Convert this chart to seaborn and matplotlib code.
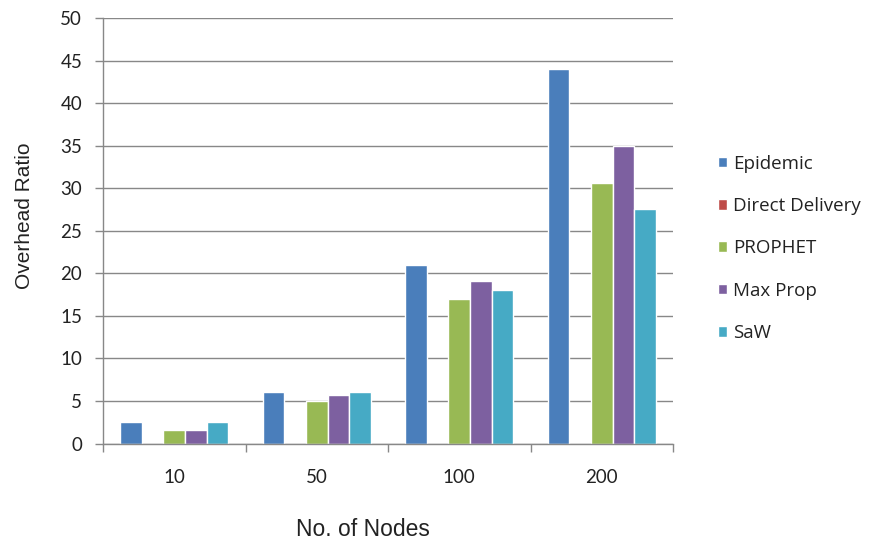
import matplotlib
matplotlib.use("Agg")
import matplotlib.pyplot as plt
from matplotlib.ticker import FixedLocator, MultipleLocator
import seaborn as sns
import pandas as pd

# Overhead ratio per routing protocol and network size
nodes = ["10", "50", "100", "200"]
protocols = ["Epidemic", "Direct Delivery", "PROPHET", "Max Prop", "SaW"]
epidemic = [2.5, 6.0, 21.0, 44.0]
direct_delivery = [0.0, 0.0, 0.0, 0.0]
prophet = [1.6, 5.0, 17.0, 30.6]
max_prop = [1.6, 5.7, 19.1, 35.0]
saw = [2.5, 6.0, 18.1, 27.6]
colors = ["#4A7EBB", "#BE4B48", "#98B954", "#7D60A0", "#46AAC5"]

series = [epidemic, direct_delivery, prophet, max_prop, saw]
df = pd.DataFrame(
    [(n, p, v) for p, vals in zip(protocols, series) for n, v in zip(nodes, vals)],
    columns=["Nodes", "Protocol", "Overhead"],
)

sns.set_style("white")
plt.rcParams["font.family"] = ["Liberation Sans", "DejaVu Sans"]

fig = plt.figure(figsize=(8.76, 5.4), dpi=100)
ax = fig.add_axes([0.1176, 0.1787, 0.6507, 0.7874])

sns.barplot(
    data=df, x="Nodes", y="Overhead", hue="Protocol",
    order=nodes, hue_order=protocols, palette=colors,
    width=0.76, saturation=1, ax=ax, legend=True,
)

grid_c = "#888888"
ax.set_ylim(0, 50)
ax.set_xlim(-0.5, len(nodes) - 0.5)
ax.yaxis.set_major_locator(MultipleLocator(5))
ax.yaxis.grid(True, color=grid_c, linewidth=1.0)
ax.set_axisbelow(True)

for side in ("top", "right"):
    ax.spines[side].set_visible(False)
for side in ("left", "bottom"):
    ax.spines[side].set_color(grid_c)
    ax.spines[side].set_linewidth(1.0)

ax.tick_params(axis="y", which="major", left=True, length=6, width=1.0,
               color=grid_c, labelsize=13.5, pad=9, labelcolor="#222222")
ax.tick_params(axis="x", which="major", bottom=False, labelsize=13.5, pad=15,
               labelcolor="#222222")
ax.xaxis.set_minor_locator(FixedLocator([i - 0.5 for i in range(len(nodes) + 1)]))
ax.tick_params(axis="x", which="minor", bottom=True, length=6, color=grid_c, width=1.0)
for lbl in ax.get_xticklabels() + ax.get_yticklabels():
    lbl.set_fontfamily(["Lato", "DejaVu Sans"])

ax.set_xlabel("No. of Nodes", fontsize=16.5, color="#222222")
ax.xaxis.set_label_coords(0.456, -0.175)
ax.set_ylabel("Overhead Ratio", fontsize=15, color="#222222")
ax.yaxis.set_label_coords(-0.121, 0.535)

handles, labels = ax.get_legend_handles_labels()
ax.legend(
    handles, labels,
    loc="center left", bbox_to_anchor=(0.800, 0.540), bbox_transform=fig.transFigure,
    frameon=False, handlelength=0.5, handleheight=0.5, handletextpad=0.3,
    labelspacing=1.3, labelcolor="#222222",
    prop={"family": ["Open Sans", "DejaVu Sans"], "size": 13.5},
)

fig.savefig("out.png", dpi=100, facecolor="white")
